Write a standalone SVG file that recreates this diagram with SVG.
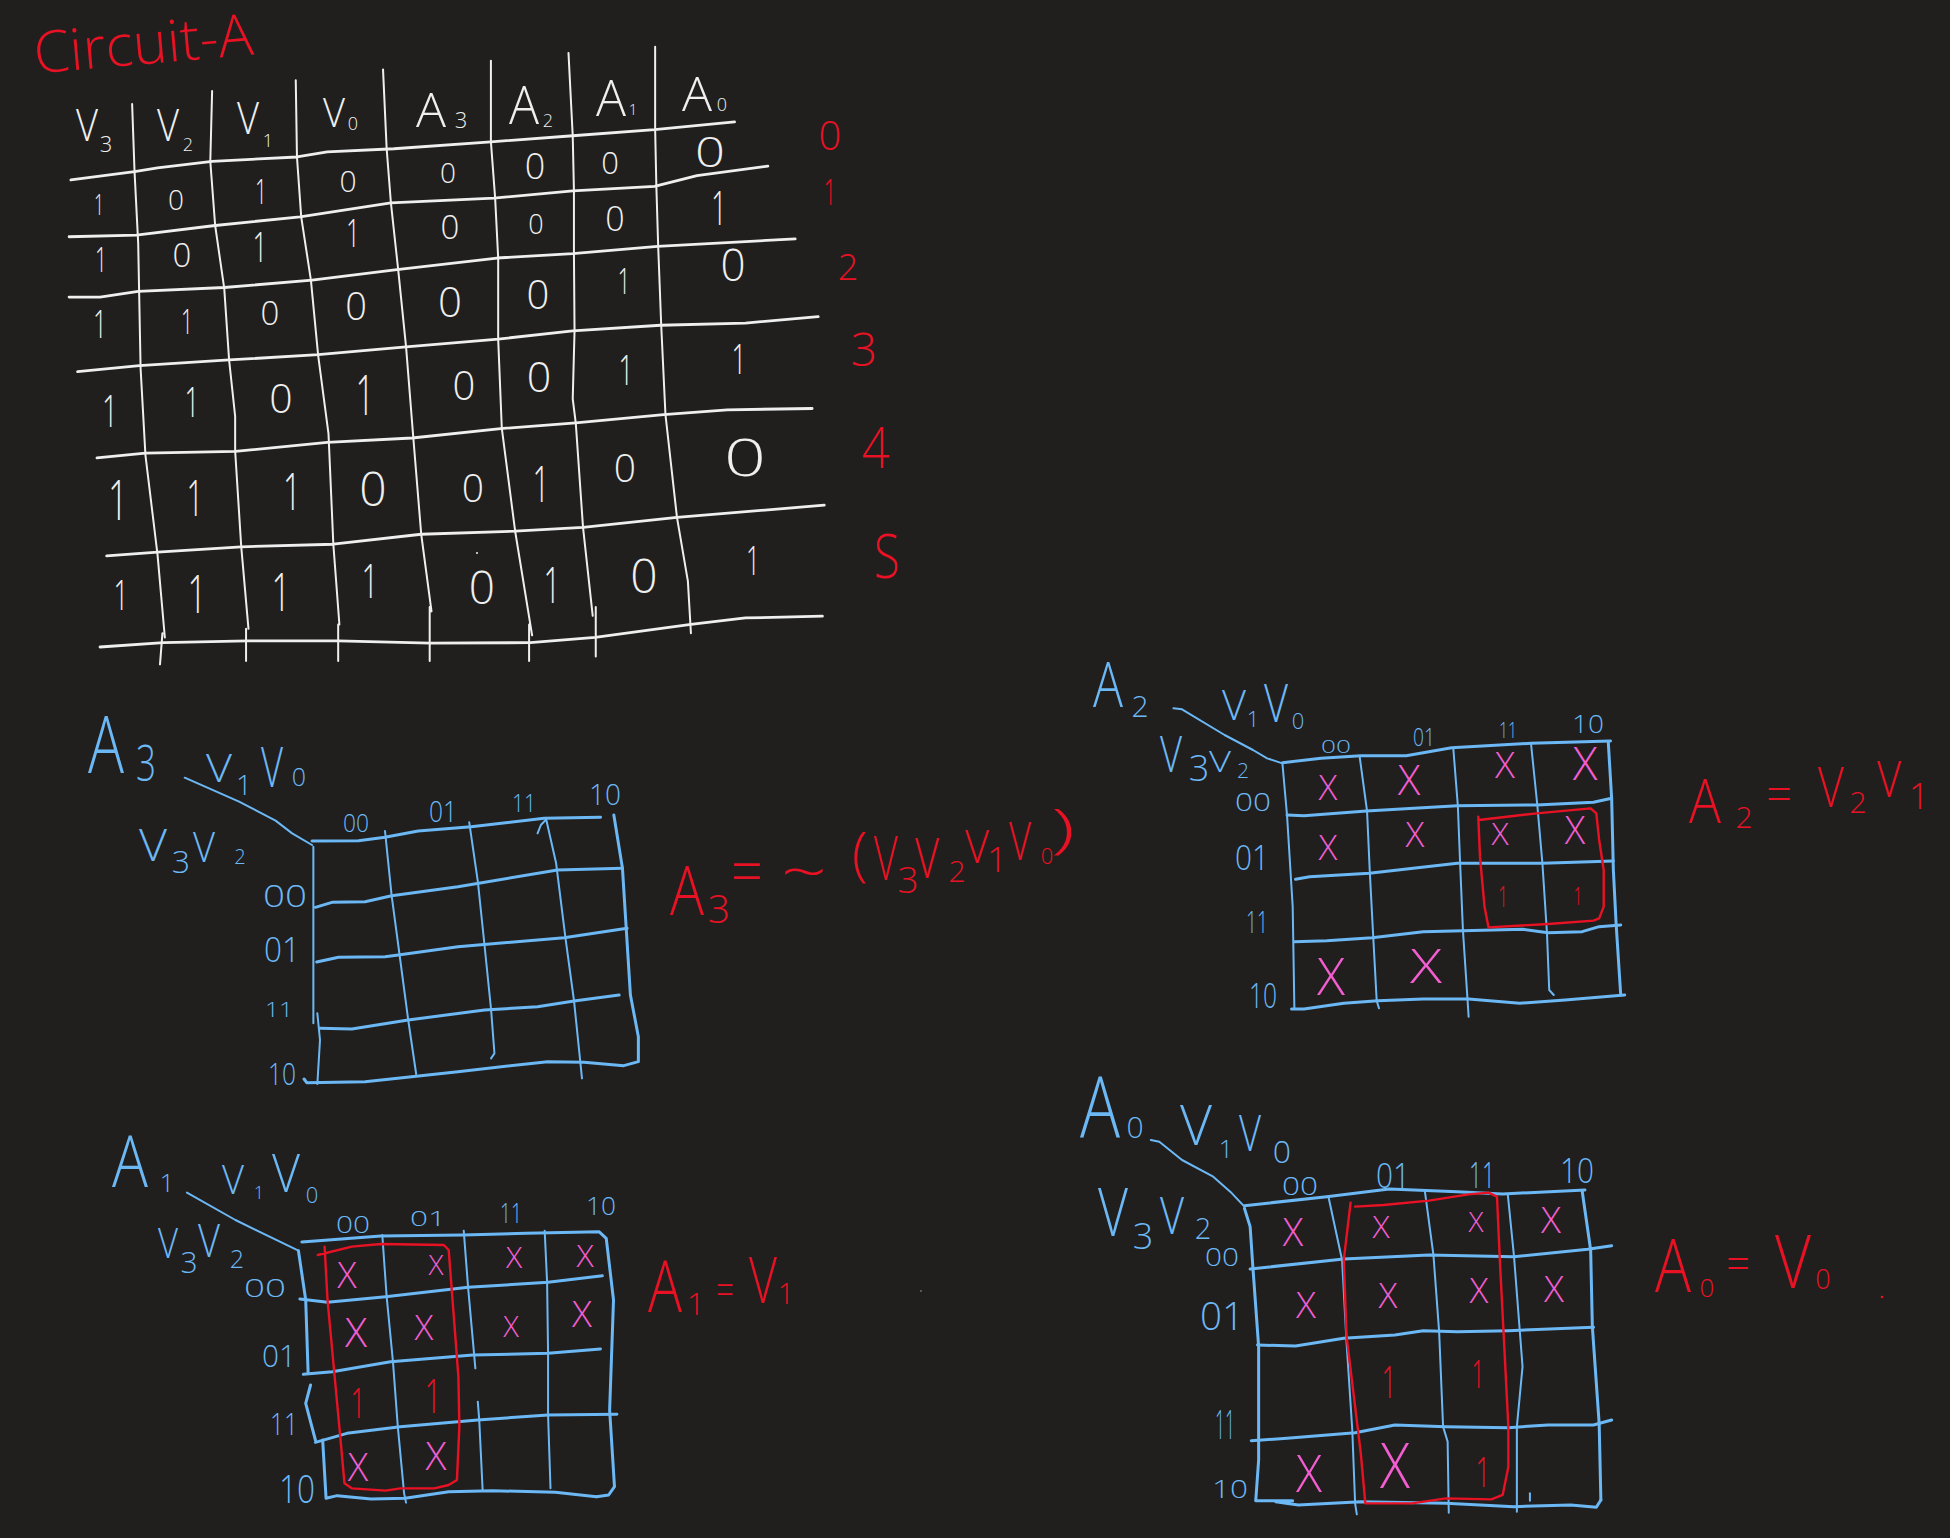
<svg xmlns="http://www.w3.org/2000/svg" width="1950" height="1538" viewBox="0 0 1950 1538">
<style>
text{font-family:"Open Sans","Liberation Sans",sans-serif;text-anchor:middle;font-weight:300}
.w{fill:#efefef}.r{fill:#e81224}.b{fill:#6cb8f5}.p{fill:#f25dd0}
path{fill:none;stroke-linecap:round;stroke-linejoin:round;vector-effect:non-scaling-stroke}
.lw{stroke:#efefef;stroke-width:2}.lw2{stroke:#efefef;stroke-width:2.8}
.lb{stroke:#6cb8f5;stroke-width:2}.lb2{stroke:#6cb8f5;stroke-width:3}
.lr{stroke:#e81224;stroke-width:2.4}
</style>
<rect width="1950" height="1538" fill="#201f1e"/>
<text class="r" transform="translate(145 64) rotate(-5)" font-size="58" textLength="220" lengthAdjust="spacingAndGlyphs">Circuit-A</text>
<g id="table">
<g transform="scale(.60606 .43365)">
<path class="lw2" d="M117,415L222,396L260,387L350,372L490,362L540,350L650,343L810,327L945,313L1080,299L1212,281"/>
<path class="lw2" d="M114,546L225,542L355,520L495,500L645,468L815,457L945,440L1080,430L1150,405L1267,383"/>
<path class="lw2" d="M114,685L165,685L228,672L370,663L515,646L655,622L820,595L945,585L1085,568L1312,551"/>
<path class="lw2" d="M128,857L230,843L378,830L525,818L670,800L822,782L945,763L1090,750L1230,745L1350,730"/>
<path class="lw2" d="M160,1056L240,1045L388,1041L540,1020L680,1010L830,988L950,975L1095,956L1200,945L1340,942"/>
<path class="lw2" d="M176,1282L260,1273L398,1261L550,1255L695,1232L850,1225L962,1216L1117,1193L1360,1165"/>
<path class="lw2" d="M165,1492L270,1482L408,1478L558,1478L710,1483L875,1482L982,1470L1140,1440L1230,1425L1357,1421"/>
<path class="lw" d="M218,240L222,396L228,560L232,850L240,1050L260,1280L272,1470M268,1460L264,1532"/>
<path class="lw" d="M350,210L347,372L355,520L370,665L378,830L388,960L388,1040L398,1260L410,1450M406,1450L406,1524"/>
<path class="lw" d="M488,185L490,362L497,500L513,646L525,820L542,1000L550,1255L560,1440M558,1440L558,1524"/>
<path class="lw" d="M632,160L638,343L645,468L657,622L670,800L682,1010L695,1232L712,1410M709,1400L709,1524"/>
<path class="lw" d="M810,140L810,327L817,457L822,595L822,782L828,988L850,1225L878,1465M873,1440L873,1524"/>
<path class="lw" d="M938,122L945,313L947,440L947,585L948,763L945,920L950,975L962,1216L978,1420M983,1400L983,1514"/>
<path class="lw" d="M1081,108L1081,299L1083,430L1086,568L1091,750L1098,956L1117,1193L1135,1340L1140,1460"/>
</g>
<g class="w">
<text><tspan x="87" y="141" font-size="45" textLength="22" lengthAdjust="spacingAndGlyphs">V</tspan><tspan x="106" y="152" font-size="22">3</tspan></text>
<text><tspan x="168" y="141" font-size="45" textLength="22" lengthAdjust="spacingAndGlyphs">V</tspan><tspan x="188" y="151" font-size="18">2</tspan></text>
<text><tspan x="248" y="134" font-size="45" textLength="22" lengthAdjust="spacingAndGlyphs">V</tspan><tspan x="268" y="147" font-size="18">1</tspan></text>
<text><tspan x="334" y="127" font-size="40" textLength="22" lengthAdjust="spacingAndGlyphs">V</tspan><tspan x="353" y="130" font-size="18">0</tspan></text>
<text><tspan x="431" y="127" font-size="48" textLength="30" lengthAdjust="spacingAndGlyphs">A</tspan><tspan x="461" y="128" font-size="22">3</tspan></text>
<text><tspan x="524" y="124" font-size="53" textLength="30" lengthAdjust="spacingAndGlyphs">A</tspan><tspan x="548" y="127" font-size="18">2</tspan></text>
<text><tspan x="611" y="116" font-size="50" textLength="30" lengthAdjust="spacingAndGlyphs">A</tspan><tspan x="633" y="115" font-size="15">1</tspan></text>
<text><tspan x="697" y="111" font-size="48" textLength="30" lengthAdjust="spacingAndGlyphs">A</tspan><tspan x="722" y="111" font-size="18">0</tspan></text>
<text x="99" y="215" font-size="30" textLength="10" lengthAdjust="spacingAndGlyphs">1</text><text x="176" y="210" font-size="28">0</text><text x="261" y="204" font-size="35" textLength="12" lengthAdjust="spacingAndGlyphs">1</text><text x="348" y="192" font-size="30">0</text><text x="448" y="183" font-size="28">0</text><text x="535" y="179" font-size="36">0</text><text x="610" y="174" font-size="31">0</text><text x="710" y="167" font-size="42" textLength="30" lengthAdjust="spacingAndGlyphs">0</text>
<text x="101" y="272" font-size="35" textLength="12" lengthAdjust="spacingAndGlyphs">1</text><text x="182" y="267" font-size="33">0</text><text x="260" y="262" font-size="42" textLength="15" lengthAdjust="spacingAndGlyphs">1</text><text x="353" y="247" font-size="39" textLength="14" lengthAdjust="spacingAndGlyphs">1</text><text x="450" y="239" font-size="33">0</text><text x="536" y="234" font-size="27">0</text><text x="615" y="231" font-size="34">0</text><text x="719" y="225" font-size="47" textLength="16" lengthAdjust="spacingAndGlyphs">1</text>
<text x="100" y="338" font-size="39" textLength="14" lengthAdjust="spacingAndGlyphs">1</text><text x="187" y="334" font-size="35" textLength="12" lengthAdjust="spacingAndGlyphs">1</text><text x="270" y="325" font-size="33">0</text><text x="356" y="320" font-size="38">0</text><text x="450" y="317" font-size="42">0</text><text x="538" y="309" font-size="40">0</text><text x="624" y="294" font-size="36" textLength="13" lengthAdjust="spacingAndGlyphs">1</text><text x="733" y="281" font-size="44">0</text>
<text x="110" y="427" font-size="45" textLength="16" lengthAdjust="spacingAndGlyphs">1</text><text x="192" y="417" font-size="43" textLength="15" lengthAdjust="spacingAndGlyphs">1</text><text x="281" y="413" font-size="41">0</text><text x="365" y="415" font-size="55" textLength="19" lengthAdjust="spacingAndGlyphs">1</text><text x="464" y="400" font-size="40">0</text><text x="539" y="392" font-size="43">0</text><text x="626" y="385" font-size="43" textLength="15" lengthAdjust="spacingAndGlyphs">1</text><text x="739" y="374" font-size="42" textLength="15" lengthAdjust="spacingAndGlyphs">1</text>
<text x="118" y="520" font-size="56" textLength="20" lengthAdjust="spacingAndGlyphs">1</text><text x="195" y="516" font-size="49" textLength="17" lengthAdjust="spacingAndGlyphs">1</text><text x="292" y="510" font-size="52" textLength="18" lengthAdjust="spacingAndGlyphs">1</text><text x="373" y="506" font-size="48">0</text><text x="473" y="502" font-size="39">0</text><text x="541" y="502" font-size="49" textLength="17" lengthAdjust="spacingAndGlyphs">1</text><text x="625" y="482" font-size="39">0</text><text x="745" y="476" font-size="51" textLength="42" lengthAdjust="spacingAndGlyphs">0</text>
<text x="121" y="610" font-size="43" textLength="15" lengthAdjust="spacingAndGlyphs">1</text><text x="197" y="613" font-size="53" textLength="19" lengthAdjust="spacingAndGlyphs">1</text><text x="281" y="611" font-size="53" textLength="19" lengthAdjust="spacingAndGlyphs">1</text><text x="370" y="598" font-size="48" textLength="17" lengthAdjust="spacingAndGlyphs">1</text><text x="482" y="604" font-size="46">0</text><text x="552" y="603" font-size="50" textLength="17" lengthAdjust="spacingAndGlyphs">1</text><text x="644" y="593" font-size="48">0</text><text x="753" y="575" font-size="41" textLength="14" lengthAdjust="spacingAndGlyphs">1</text>
</g>
<g class="r">
<text x="830" y="150" font-size="40">0</text><text x="830" y="205" font-size="36" textLength="13" lengthAdjust="spacingAndGlyphs">1</text><text x="848" y="280" font-size="36">2</text><text x="864" y="366" font-size="46">3</text><text x="876" y="468" font-size="57" textLength="28" lengthAdjust="spacingAndGlyphs">4</text><text x="887" y="578" font-size="61" textLength="26" lengthAdjust="spacingAndGlyphs">S</text>
</g>
<circle cx="477" cy="553" r="1" fill="#efefef"/>
</g>

<g id="map-a3">
<g transform="translate(60 690) scale(.66327 .33333)">
<path class="lb" d="M188,263L270,335L325,392L350,430L380,465"/>
<path class="lb2" d="M380,453L450,452L490,442L540,423L620,410L730,385L815,382"/>
<path class="lb2" d="M385,652L410,637L460,635L500,617L600,590L750,540L848,535"/>
<path class="lb2" d="M387,816L420,802L490,800L510,795L600,770L760,743L855,715"/>
<path class="lb2" d="M392,1015L440,1017L525,990L640,960L720,950L775,933L843,915"/>
<path class="lb2" d="M368,1167L372,1178L460,1175L600,1145L735,1115L790,1117L850,1127L872,1115L872,1040L860,915L848,535L835,375"/>
<path class="lb" d="M382,470L382,1000M388,970L392,1050L388,1182"/>
<path class="lb" d="M490,423L500,617L512,795L525,990L537,1152"/>
<path class="lb" d="M617,397L630,575L640,765L650,960L655,1090L650,1105"/>
<path class="lb" d="M720,430L725,405L733,388L748,520L762,743L775,933L787,1165"/>
</g>
<g class="b">
<text><tspan x="106" y="773" font-size="80" textLength="36" lengthAdjust="spacingAndGlyphs">A</tspan><tspan x="146" y="781" font-size="50" textLength="20" lengthAdjust="spacingAndGlyphs">3</tspan></text>
<text><tspan x="219" y="782" font-size="39" textLength="26" lengthAdjust="spacingAndGlyphs">V</tspan><tspan x="244" y="795" font-size="28">1</tspan><tspan x="272" y="787" font-size="55" textLength="22" lengthAdjust="spacingAndGlyphs">V</tspan><tspan x="299" y="786" font-size="25">0</tspan></text>
<text><tspan x="153" y="861" font-size="44" textLength="28" lengthAdjust="spacingAndGlyphs">V</tspan><tspan x="181" y="873" font-size="32">3</tspan><tspan x="204" y="862" font-size="43" textLength="22" lengthAdjust="spacingAndGlyphs">V</tspan><tspan x="240" y="864" font-size="20">2</tspan></text>
<text x="356" y="832" font-size="26" textLength="26" lengthAdjust="spacingAndGlyphs">00</text>
<text x="443" y="822" font-size="29" textLength="28" lengthAdjust="spacingAndGlyphs">01</text>
<text x="524" y="812" font-size="25" textLength="24" lengthAdjust="spacingAndGlyphs">11</text>
<text x="605" y="805" font-size="29" textLength="32" lengthAdjust="spacingAndGlyphs">10</text>
<text x="285" y="907" font-size="31" textLength="44" lengthAdjust="spacingAndGlyphs">00</text>
<text x="282" y="962" font-size="34" textLength="36" lengthAdjust="spacingAndGlyphs">01</text>
<text x="279" y="1017" font-size="21" textLength="28" lengthAdjust="spacingAndGlyphs">11</text>
<text x="282" y="1085" font-size="32" textLength="28" lengthAdjust="spacingAndGlyphs">10</text>
</g>
<text class="r"><tspan x="687" y="915" font-size="69" textLength="34" lengthAdjust="spacingAndGlyphs">A</tspan><tspan x="719" y="923" font-size="39">3</tspan><tspan x="747" y="894" font-size="64" textLength="32" lengthAdjust="spacingAndGlyphs">=</tspan><tspan x="804" y="893" font-size="60" textLength="46" lengthAdjust="spacingAndGlyphs">~</tspan><tspan x="860" y="874" font-size="58">(</tspan><tspan x="886" y="880" font-size="60" textLength="24" lengthAdjust="spacingAndGlyphs">V</tspan><tspan x="908" y="893" font-size="37">3</tspan><tspan x="927" y="878" font-size="55" textLength="24" lengthAdjust="spacingAndGlyphs">V</tspan><tspan x="957" y="882" font-size="30">2</tspan><tspan x="977" y="863" font-size="46" textLength="24" lengthAdjust="spacingAndGlyphs">V</tspan><tspan x="997" y="872" font-size="35">1</tspan><tspan x="1020" y="860" font-size="53" textLength="22" lengthAdjust="spacingAndGlyphs">V</tspan><tspan x="1047" y="864" font-size="22">0</tspan><tspan x="1063" y="847" font-size="53" textLength="24" lengthAdjust="spacingAndGlyphs">)</tspan></text>
</g>

<g id="map-a2">
<g transform="translate(1060 640) scale(.56754 .33333)">
<path class="lb" d="M200,205L215,208L290,285L340,330L365,355L392,370"/>
<path class="lb2" d="M392,368L460,355L530,347L610,347L690,323L830,310L970,303"/>
<path class="lb2" d="M400,525L430,527L540,513L700,497L840,495L940,487L972,475"/>
<path class="lb2" d="M415,718L440,710L545,700L700,670L850,670L975,663"/>
<path class="lb2" d="M413,905L470,902L550,893L640,875L710,872L815,868L860,878L920,875L950,860L988,855"/>
<path class="lb2" d="M408,1107L430,1107L500,1090L560,1082L640,1077L720,1077L810,1090L890,1080L995,1065"/>
<path class="lb" d="M392,372L400,525L410,800L413,1107"/>
<path class="lb" d="M528,350L541,513L546,700L552,893L558,1082L562,1105"/>
<path class="lb" d="M693,325L701,497L705,670L710,872L718,1077L720,1130"/>
<path class="lb" d="M830,312L841,495L850,670L858,878L862,1050L870,1065"/>
<path class="lb2" d="M966,305L972,475L975,690L980,855L988,1065"/>
<path class="lr" d="M738,540L840,520L935,505L945,520L950,600L958,690L958,800L950,835L940,842L860,852L755,862L748,800L740,650L737,530"/>
</g>
<g class="b">
<text><tspan x="1108" y="707" font-size="62" textLength="30" lengthAdjust="spacingAndGlyphs">A</tspan><tspan x="1140" y="717" font-size="30">2</tspan></text>
<text><tspan x="1234" y="720" font-size="42" textLength="24" lengthAdjust="spacingAndGlyphs">V</tspan><tspan x="1253" y="727" font-size="22">1</tspan><tspan x="1276" y="722" font-size="53" textLength="24" lengthAdjust="spacingAndGlyphs">V</tspan><tspan x="1298" y="729" font-size="22">0</tspan></text>
<text><tspan x="1171" y="772" font-size="50" textLength="22" lengthAdjust="spacingAndGlyphs">V</tspan><tspan x="1199" y="781" font-size="36">3</tspan><tspan x="1220" y="772" font-size="30" textLength="22" lengthAdjust="spacingAndGlyphs">V</tspan><tspan x="1243" y="778" font-size="21">2</tspan></text>
<text x="1336" y="753" font-size="19" textLength="30" lengthAdjust="spacingAndGlyphs">00</text>
<text x="1424" y="746" font-size="25" textLength="22" lengthAdjust="spacingAndGlyphs">01</text>
<text x="1508" y="738" font-size="22" textLength="18" lengthAdjust="spacingAndGlyphs">11</text>
<text x="1588" y="733" font-size="25" textLength="32" lengthAdjust="spacingAndGlyphs">10</text>
<text x="1253" y="811" font-size="26" textLength="36" lengthAdjust="spacingAndGlyphs">00</text>
<text x="1252" y="870" font-size="35" textLength="34" lengthAdjust="spacingAndGlyphs">01</text>
<text x="1257" y="933" font-size="31" textLength="22" lengthAdjust="spacingAndGlyphs">11</text>
<text x="1263" y="1008" font-size="34" textLength="28" lengthAdjust="spacingAndGlyphs">10</text>
</g>
<g class="p">
<text x="1328" y="800" font-size="35">X</text><text x="1409" y="795" font-size="42">X</text><text x="1505" y="778" font-size="37">X</text><text x="1585" y="780" font-size="46">X</text>
<text x="1328" y="860" font-size="35">X</text><text x="1415" y="847" font-size="35">X</text><text x="1500" y="845" font-size="32">X</text><text x="1575" y="844" font-size="38">X</text>
<text x="1331" y="995" font-size="51" textLength="28" lengthAdjust="spacingAndGlyphs">X</text><text x="1426" y="983" font-size="48" textLength="32" lengthAdjust="spacingAndGlyphs">X</text>
</g>
<g class="r"><text x="1503" y="907" font-size="30" textLength="10" lengthAdjust="spacingAndGlyphs">1</text><text x="1578" y="905" font-size="26" textLength="9" lengthAdjust="spacingAndGlyphs">1</text></g>
<text class="r"><tspan x="1705" y="823" font-size="60" textLength="32" lengthAdjust="spacingAndGlyphs">A</tspan><tspan x="1744" y="828" font-size="30">2</tspan><tspan x="1779" y="812" font-size="50" textLength="26" lengthAdjust="spacingAndGlyphs">=</tspan><tspan x="1831" y="807" font-size="55" textLength="26" lengthAdjust="spacingAndGlyphs">V</tspan><tspan x="1858" y="813" font-size="30">2</tspan><tspan x="1889" y="797" font-size="49" textLength="24" lengthAdjust="spacingAndGlyphs">V</tspan><tspan x="1919" y="809" font-size="36">1</tspan></text>
</g>

<g id="map-a1">
<g transform="translate(90 1110) scale(.48473 .33333)">
<path class="lb" d="M200,248L300,330L430,422"/>
<path class="lb2" d="M437,396L600,378L770,375L900,370L1050,365L1065,385L1080,570L1072,900L1082,1130L1070,1155L1045,1160"/>
<path class="lb2" d="M430,422L445,570L450,790M455,825L445,880L465,990M480,990L487,1165L510,1157L580,1167L650,1165L740,1145L830,1142L960,1147L1045,1160"/>
<path class="lb2" d="M433,567L490,577L610,560L780,532L945,517L1057,497"/>
<path class="lb2" d="M440,793L500,785L620,755L790,735L945,730L1053,717"/>
<path class="lb2" d="M465,997L530,970L640,950L800,930L945,915L1087,913"/>
<path class="lb" d="M603,375L612,560L625,755L635,950L648,1150L652,1178"/>
<path class="lb" d="M771,362L780,532L795,775M800,875L803,930L810,1140"/>
<path class="lb" d="M938,362L943,517L945,730L945,915L950,1135"/>
<path class="lr" d="M470,435L540,410L600,402L730,405L740,420L760,800L762,950L757,1110L740,1125L710,1135L640,1135L610,1142L540,1135L525,1120L515,960L490,570L484,410"/>
</g>
<g class="b">
<text><tspan x="130" y="1187" font-size="71" textLength="36" lengthAdjust="spacingAndGlyphs">A</tspan><tspan x="167" y="1192" font-size="26">1</tspan></text>
<text><tspan x="233" y="1194" font-size="40" textLength="22" lengthAdjust="spacingAndGlyphs">V</tspan><tspan x="259" y="1199" font-size="18">1</tspan><tspan x="286" y="1192" font-size="53" textLength="28" lengthAdjust="spacingAndGlyphs">V</tspan><tspan x="312" y="1203" font-size="22">0</tspan></text>
<text><tspan x="168" y="1258" font-size="42" textLength="20" lengthAdjust="spacingAndGlyphs">V</tspan><tspan x="189" y="1273" font-size="30">3</tspan><tspan x="209" y="1257" font-size="46" textLength="22" lengthAdjust="spacingAndGlyphs">V</tspan><tspan x="237" y="1268" font-size="25">2</tspan></text>
<text x="353" y="1233" font-size="23" textLength="34" lengthAdjust="spacingAndGlyphs">00</text>
<text x="428" y="1226" font-size="20" textLength="36" lengthAdjust="spacingAndGlyphs">01</text>
<text x="511" y="1223" font-size="28" textLength="22" lengthAdjust="spacingAndGlyphs">11</text>
<text x="601" y="1215" font-size="26" textLength="30" lengthAdjust="spacingAndGlyphs">10</text>
<text x="265" y="1297" font-size="26" textLength="42" lengthAdjust="spacingAndGlyphs">00</text>
<text x="279" y="1367" font-size="32" textLength="34" lengthAdjust="spacingAndGlyphs">01</text>
<text x="284" y="1435" font-size="32" textLength="28" lengthAdjust="spacingAndGlyphs">11</text>
<text x="297" y="1503" font-size="39" textLength="36" lengthAdjust="spacingAndGlyphs">10</text>
</g>
<g class="p">
<text x="347" y="1288" font-size="36">X</text><text x="436" y="1275" font-size="28">X</text><text x="514" y="1268" font-size="30">X</text><text x="585" y="1267" font-size="32">X</text>
<text x="356" y="1347" font-size="41">X</text><text x="424" y="1340" font-size="35">X</text><text x="511" y="1337" font-size="29">X</text><text x="582" y="1327" font-size="37">X</text>
<text x="358" y="1481" font-size="38">X</text><text x="436" y="1470" font-size="39">X</text>
</g>
<g class="r"><text x="358" y="1418" font-size="43" textLength="15" lengthAdjust="spacingAndGlyphs">1</text><text x="433" y="1413" font-size="48" textLength="17" lengthAdjust="spacingAndGlyphs">1</text></g>
<text class="r"><tspan x="665" y="1312" font-size="72" textLength="34" lengthAdjust="spacingAndGlyphs">A</tspan><tspan x="696" y="1315" font-size="32">1</tspan><tspan x="725" y="1305" font-size="44" textLength="18" lengthAdjust="spacingAndGlyphs">=</tspan><tspan x="763" y="1303" font-size="65" textLength="28" lengthAdjust="spacingAndGlyphs">V</tspan><tspan x="786" y="1304" font-size="29">1</tspan></text>
<circle cx="921" cy="1291" r="1" fill="#6b6b6b"/>
</g>

<g id="map-a0">
<g transform="translate(1060 1060) scale(.56754 .33333)">
<path class="lb" d="M160,240L175,245L215,300L270,350L300,395L325,440"/>
<path class="lb2" d="M325,437L470,410L580,387L700,395L780,402L925,390"/>
<path class="lb2" d="M325,445L335,500L340,625L350,860L350,1200L345,1320"/>
<path class="lb2" d="M335,627L500,597L650,585L800,590L930,568L972,557"/>
<path class="lb2" d="M348,855L415,858L500,835L590,825L640,812L700,815L790,812L940,802"/>
<path class="lb2" d="M337,1142L400,1135L520,1118L590,1095L680,1100L790,1103L860,1095L940,1095L972,1080"/>
<path class="lb2" d="M345,1322L410,1322M380,1325L420,1335L530,1325L680,1330L800,1340L900,1335L945,1342L953,1320"/>
<path class="lb2" d="M920,392L935,570L938,800L950,1090L953,1320"/>
<path class="lb" d="M473,410L497,600L505,850L515,1110L520,1330L523,1363"/>
<path class="lb" d="M643,395L658,585L668,815L675,1100L683,1145L685,1358"/>
<path class="lb" d="M789,403L800,590L810,810L815,920L805,1100L805,1355"/>
<path class="lb" d="M828,1300L828,1322"/>
<path class="lr" d="M520,440L570,435L650,422L720,403L755,398L770,410L775,600L790,1100L790,1220L780,1305L760,1318L680,1315L620,1330L538,1330L530,1180L505,830L500,600L512,428"/>
</g>
<g class="b">
<text><tspan x="1100" y="1137" font-size="84" textLength="40" lengthAdjust="spacingAndGlyphs">A</tspan><tspan x="1135" y="1138" font-size="30">0</tspan></text>
<text><tspan x="1196" y="1145" font-size="55" textLength="32" lengthAdjust="spacingAndGlyphs">V</tspan><tspan x="1226" y="1158" font-size="25">1</tspan><tspan x="1250" y="1151" font-size="50" textLength="22" lengthAdjust="spacingAndGlyphs">V</tspan><tspan x="1282" y="1163" font-size="32">0</tspan></text>
<text><tspan x="1113" y="1236" font-size="66" textLength="30" lengthAdjust="spacingAndGlyphs">V</tspan><tspan x="1143" y="1249" font-size="36">3</tspan><tspan x="1172" y="1234" font-size="52" textLength="24" lengthAdjust="spacingAndGlyphs">V</tspan><tspan x="1203" y="1239" font-size="29">2</tspan></text>
<text x="1300" y="1195" font-size="25" textLength="36" lengthAdjust="spacingAndGlyphs">00</text>
<text x="1393" y="1188" font-size="34" textLength="34" lengthAdjust="spacingAndGlyphs">01</text>
<text x="1482" y="1188" font-size="37" textLength="26" lengthAdjust="spacingAndGlyphs">11</text>
<text x="1577" y="1183" font-size="35" textLength="34" lengthAdjust="spacingAndGlyphs">10</text>
<text x="1222" y="1266" font-size="26" textLength="34" lengthAdjust="spacingAndGlyphs">00</text>
<text x="1222" y="1330" font-size="38" textLength="44" lengthAdjust="spacingAndGlyphs">01</text>
<text x="1225" y="1439" font-size="40" textLength="20" lengthAdjust="spacingAndGlyphs">11</text>
<text x="1230" y="1498" font-size="25" textLength="36" lengthAdjust="spacingAndGlyphs">10</text>
</g>
<g class="p">
<text x="1293" y="1246" font-size="38">X</text><text x="1381" y="1238" font-size="32">X</text><text x="1476" y="1232" font-size="28">X</text><text x="1551" y="1233" font-size="37">X</text>
<text x="1306" y="1318" font-size="37">X</text><text x="1388" y="1308" font-size="35">X</text><text x="1479" y="1303" font-size="35">X</text><text x="1554" y="1302" font-size="37">X</text>
<text x="1309" y="1492" font-size="52" textLength="26" lengthAdjust="spacingAndGlyphs">X</text><text x="1395" y="1488" font-size="62" textLength="30" lengthAdjust="spacingAndGlyphs">X</text>
</g>
<g class="r"><text x="1389" y="1398" font-size="44" textLength="15" lengthAdjust="spacingAndGlyphs">1</text><text x="1478" y="1388" font-size="38" textLength="13" lengthAdjust="spacingAndGlyphs">1</text><text x="1483" y="1487" font-size="42" textLength="15" lengthAdjust="spacingAndGlyphs">1</text></g>
<text class="r"><tspan x="1673" y="1292" font-size="73" textLength="36" lengthAdjust="spacingAndGlyphs">A</tspan><tspan x="1707" y="1297" font-size="26">0</tspan><tspan x="1738" y="1280" font-size="46" textLength="24" lengthAdjust="spacingAndGlyphs">=</tspan><tspan x="1793" y="1288" font-size="74" textLength="36" lengthAdjust="spacingAndGlyphs">V</tspan><tspan x="1823" y="1289" font-size="27">0</tspan></text>
<circle cx="1882" cy="1297" r="1.3" fill="#e81224"/>
</g>
</svg>
